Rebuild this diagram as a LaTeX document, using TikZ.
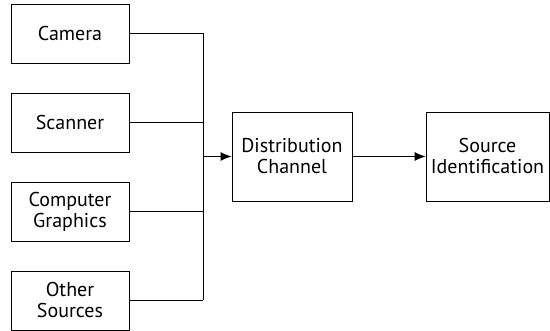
\documentclass[tikz,border=0pt]{standalone}
\usepackage{fontspec}
\setmainfont{PT Sans}
\usepackage{tikz}
\usetikzlibrary{arrows.meta}

\begin{document}
\begin{tikzpicture}[x=1pt, y=-1pt, line width=0.8pt,
        every node/.style={rectangle, draw, align=center, font=\fontsize{20}{21}\selectfont,
        inner sep=0pt}]
        \useasboundingbox (0,0) rectangle (550,331);

        % input devices on the left
        \node[minimum width=118pt, minimum height=59pt] (cam) at (70,33.5) {Camera};
        \node[minimum width=118pt, minimum height=59pt] (scan) at (70,122.5) {Scanner};
        \node[minimum width=118pt, minimum height=59pt] (cg) at (70,211.5) {Computer\\Graphics};
        \node[minimum width=118pt, minimum height=59pt] (other) at (70,300.5) {Other\\Sources};

        \node[minimum width=120pt, minimum height=89pt] (dist) at (292,156.5) {Distribution\\Channel};
        \node[minimum width=123pt, minimum height=89pt] (srcid) at (487.5,156.5) {Source\\Identification};

        \coordinate (bustop) at (203,33.5);
        \coordinate (busbot) at (203,300.5);
        \coordinate (busout) at (203,156.5);

        \draw (cam) -- (bustop);
        \draw (scan) -- (scan -| busout);
        \draw (cg) -- (cg -| busout);
        \draw (other) -- (busbot);
        \draw (bustop) -- (busbot);
        \draw[line width=1.1pt, -{Latex[length=11pt,width=9pt]}] (busout) -- (dist);
        \draw[-{Latex[length=11pt,width=9pt]}] (dist) -- (srcid);
    \end{tikzpicture}
\end{document}
